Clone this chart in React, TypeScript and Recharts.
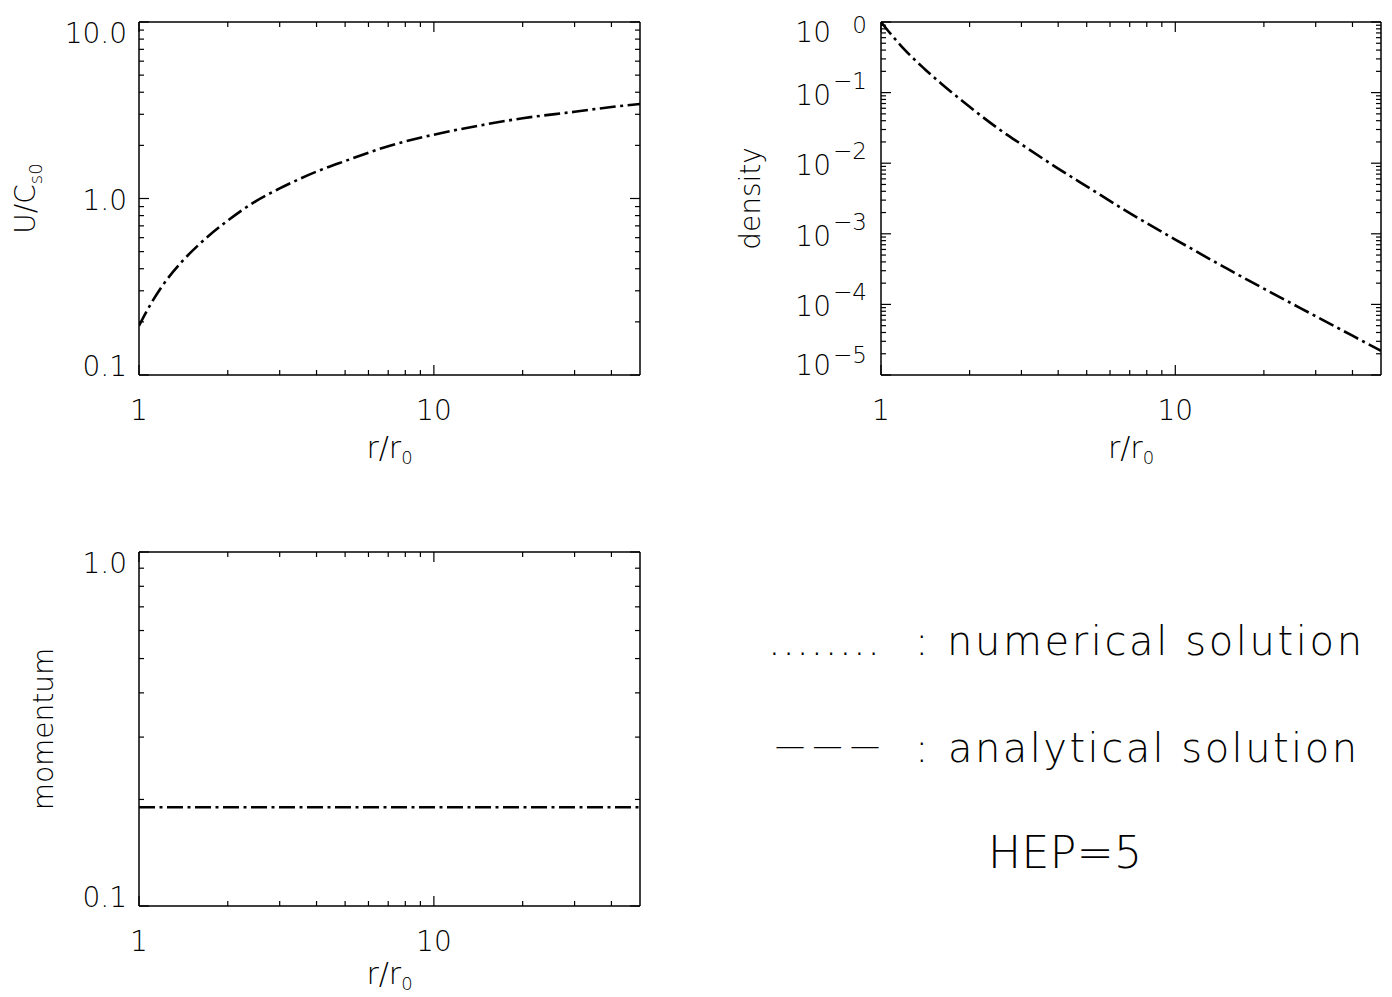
import React from 'react';
import { LineChart, Line, XAxis, YAxis } from 'recharts';

// r/r0 sample points
const radius = [1, 1.05, 1.1, 1.2, 1.4, 1.6, 2, 2.5, 3, 4, 5, 7, 10, 15, 20, 30, 40, 50];
const velocity = [0.19, 0.222, 0.255, 0.32, 0.44, 0.55, 0.75, 0.97, 1.14, 1.42, 1.63, 1.98, 2.3, 2.63, 2.85, 3.1, 3.3, 3.43];
const density = [1.0, 0.776, 0.616, 0.41, 0.22, 0.135, 0.063, 0.031, 0.0185, 0.0084, 0.0047, 0.00196, 0.00083, 0.00032, 0.000167, 0.000068, 0.000036, 0.000022];
const momentum = [0.19, 0.19, 0.19, 0.19, 0.19, 0.19, 0.19, 0.19, 0.19, 0.19, 0.19, 0.19, 0.19, 0.19, 0.19, 0.19, 0.19, 0.19];

// labelled (major) ticks
const rMajor = [1, 10];
const rLabels = ['1', '10'];
const uMajor = [0.1, 1, 10];
const uLabels = ['0.1', '1.0', '10.0'];
const rhoMajor = [1e-5, 1e-4, 1e-3, 1e-2, 1e-1, 1];
const rhoExps = ['\u22125', '\u22124', '\u22123', '\u22122', '\u22121', '0'];
const momMajor = [0.1, 1];
const momLabels = ['0.1', '1.0'];

const FONT = "'DejaVu Sans', 'Liberation Sans', sans-serif";
const INK = '#000';
const AXIS_LINE = { stroke: INK, strokeWidth: 1.5 };

// 2..9 x 10^e minor ticks for log axes
const minorTicks = (e0: number, e1: number, max = Infinity) => {
  const out: number[] = [];
  for (let e = e0; e < e1; e++) {
    for (let k = 2; k <= 9; k++) {
      const v = k * Math.pow(10, e);
      if (v < max) out.push(v);
    }
  }
  return out;
};

const rTicks = [...rMajor, ...minorTicks(0, 2, 50)];
const uTicks = [...uMajor, ...minorTicks(-1, 1)];
const rhoTicks = [...rhoMajor, ...minorTicks(-5, 0)];
const momTicks = [...momMajor, ...minorTicks(-1, 0)];

const tableOf = (ys: number[]) => radius.map((r, i) => ({ r, y: ys[i] }));

const len = (major: boolean) => (major ? 10 : 5);

const bottomTick = (major: number[], labels: string[]) => (p: any) => {
  const i = major.indexOf(p.payload.value);
  return (
    <g>
      <line x1={p.x} x2={p.x} y1={p.y} y2={p.y - len(i >= 0)} stroke={INK} strokeWidth={1.2} />
      {i >= 0 && (
        <text x={p.x} y={p.y + 45} textAnchor="middle" fontSize={28} fontFamily={FONT} fontWeight={200} fill={INK}>
          {labels[i]}
        </text>
      )}
    </g>
  );
};

const topTick = (major: number[]) => (p: any) => (
  <line x1={p.x} x2={p.x} y1={p.y} y2={p.y + len(major.includes(p.payload.value))} stroke={INK} strokeWidth={1.2} />
);

const rightTick = (major: number[]) => (p: any) => (
  <line x1={p.x} x2={p.x - len(major.includes(p.payload.value))} y1={p.y} y2={p.y} stroke={INK} strokeWidth={1.2} />
);

const leftTick = (major: number[], labels: string[]) => (p: any) => {
  const v = p.payload.value;
  const i = major.indexOf(v);
  let base = p.y + 11;
  if (i === major.length - 1) base = p.y + 21;
  if (i === 0) base = p.y + 1;
  return (
    <g>
      <line x1={p.x} x2={p.x + len(i >= 0)} y1={p.y} y2={p.y} stroke={INK} strokeWidth={1.2} />
      {i >= 0 && (
        <text x={p.x - 12} y={base} textAnchor="end" fontSize={28} fontFamily={FONT} fontWeight={200} fill={INK}>
          {labels[i]}
        </text>
      )}
    </g>
  );
};

const leftExpTick = (major: number[], exps: string[]) => (p: any) => {
  const i = major.indexOf(p.payload.value);
  let base = p.y + 12;
  let raise = 16;
  if (i === major.length - 1) { base = p.y + 20; raise = 9; }
  if (i === 0) { base = p.y; raise = 12; }
  return (
    <g>
      <line x1={p.x} x2={p.x + len(i >= 0)} y1={p.y} y2={p.y} stroke={INK} strokeWidth={1.2} />
      {i >= 0 && (
        <g fontFamily={FONT} fontWeight={200} fill={INK}>
          <text x={p.x - 50} y={base} textAnchor="end" fontSize={28}>10</text>
          <text x={p.x - 14} y={base - raise} textAnchor="end" fontSize={23}>{exps[i]}</text>
        </g>
      )}
    </g>
  );
};

const xTitle = (offset: number) => (props: any) => {
  const vb = props.viewBox || { x: 0, y: 0, width: 0, height: 0 };
  return (
    <text x={vb.x + vb.width / 2} y={vb.y + offset} textAnchor="middle" fontSize={30} fontFamily={FONT} fontWeight={200} fill={INK}>
      r/r<tspan dy={6} fontSize={18}>0</tspan>
    </text>
  );
};

const yTitle = (cx: number, content: React.ReactNode) => (props: any) => {
  const vb = props.viewBox || { x: 0, y: 0, width: 0, height: 0 };
  const cy = vb.y + vb.height / 2;
  return (
    <text x={cx} y={cy} transform={`rotate(-90 ${cx} ${cy})`} textAnchor="middle" fontSize={28} fontFamily={FONT} fontWeight={200} fill={INK}>
      {content}
    </text>
  );
};

interface PanelProps {
  left: number;
  top: number;
  width: number;
  height: number;
  topH: number;
  bottomH: number;
  leftW: number;
  rightW: number;
  values: number[];
  yDomain: [number, number];
  yTicks: number[];
  yTick: (p: any) => React.ReactElement;
  yMajor: number[];
  title: (p: any) => React.ReactElement;
  xTitleOffset: number;
}

function Panel(props: PanelProps) {
  const { left, top, width, height, topH, bottomH, leftW, rightW, values, yDomain, yTicks, yTick, yMajor, title, xTitleOffset } = props;
  const data = tableOf(values);
  return (
    <div style={{ position: 'absolute', left, top }}>
      <LineChart width={width} height={height} data={data} margin={{ top: 0, right: 0, bottom: 0, left: 0 }}>
        <XAxis xAxisId="b" dataKey="r" type="number" scale="log" domain={[1, 50]} allowDataOverflow
          ticks={rTicks} interval={0} height={bottomH} tickSize={0} tickMargin={0} tickLine={false}
          axisLine={AXIS_LINE} tick={bottomTick(rMajor, rLabels)} label={xTitle(xTitleOffset)} />
        <XAxis xAxisId="t" orientation="top" dataKey="r" type="number" scale="log" domain={[1, 50]} allowDataOverflow
          ticks={rTicks} interval={0} height={topH} tickSize={0} tickMargin={0} tickLine={false}
          axisLine={AXIS_LINE} tick={topTick(rMajor)} />
        <YAxis yAxisId="l" type="number" scale="log" domain={yDomain} allowDataOverflow
          ticks={yTicks} interval={0} width={leftW} tickSize={0} tickMargin={0} tickLine={false}
          axisLine={AXIS_LINE} tick={yTick} label={title} />
        <YAxis yAxisId="r" orientation="right" type="number" scale="log" domain={yDomain} allowDataOverflow
          ticks={yTicks} interval={0} width={rightW} tickSize={0} tickMargin={0} tickLine={false}
          axisLine={AXIS_LINE} tick={rightTick(yMajor)} />
        {/* analytical solution: dashes */}
        <Line xAxisId="b" yAxisId="l" dataKey="y" type="monotone" stroke={INK} strokeWidth={2.6}
          strokeDasharray="16 12" dot={false} activeDot={false} isAnimationActive={false} />
        {/* numerical solution: dots, sitting in the dash gaps */}
        <Line xAxisId="b" yAxisId="l" dataKey="y" type="monotone" stroke={INK} strokeWidth={2.6}
          strokeDasharray="3 25" strokeDashoffset={7.5} dot={false} activeDot={false} isAnimationActive={false} />
      </LineChart>
    </div>
  );
}

function LegendText() {
  const txt = { fontFamily: FONT, fontWeight: 200, fill: INK } as const;
  return (
    <svg width={692} height={517} style={{ position: 'absolute', left: 700, top: 480 }}>
      <g {...txt} fontSize={40}>
        <text x={68} y={175} textLength={112} lengthAdjust="spacing">........</text>
        <text x={215} y={175}>:</text>
        <text x={247} y={175} textLength={415} lengthAdjust="spacing">numerical solution</text>
        <text x={75} y={276} fontSize={30} textLength={105} lengthAdjust="spacing">{'\u2014 \u2014 \u2014'}</text>
        <text x={215} y={282}>:</text>
        <text x={248} y={282} textLength={409} lengthAdjust="spacing">analytical solution</text>
        <text x={288} y={388} fontSize={44} textLength={154} lengthAdjust="spacing">HEP=5</text>
      </g>
    </svg>
  );
}

export default function App() {
  return (
    <div style={{ position: 'absolute', left: 0, top: 0, width: 1392, height: 997, background: '#fff', overflow: 'hidden' }}>
      <Panel left={0} top={0} width={700} height={480} topH={22} bottomH={105} leftW={139} rightW={60}
        values={velocity} yDomain={[0.1, 10]} yTicks={uTicks} yMajor={uMajor}
        yTick={leftTick(uMajor, uLabels)} xTitleOffset={83}
        title={yTitle(35, <>U/C<tspan dy={7} fontSize={18}>s0</tspan></>)} />
      <Panel left={700} top={0} width={692} height={480} topH={22} bottomH={105} leftW={181} rightW={11}
        values={density} yDomain={[1e-5, 1]} yTicks={rhoTicks} yMajor={rhoMajor}
        yTick={leftExpTick(rhoMajor, rhoExps)} xTitleOffset={83}
        title={yTitle(60, 'density')} />
      <Panel left={0} top={480} width={700} height={517} topH={72} bottomH={91} leftW={139} rightW={60}
        values={momentum} yDomain={[0.1, 1]} yTicks={momTicks} yMajor={momMajor}
        yTick={leftTick(momMajor, momLabels)} xTitleOffset={78}
        title={yTitle(53, 'momentum')} />
      <LegendText />
    </div>
  );
}
